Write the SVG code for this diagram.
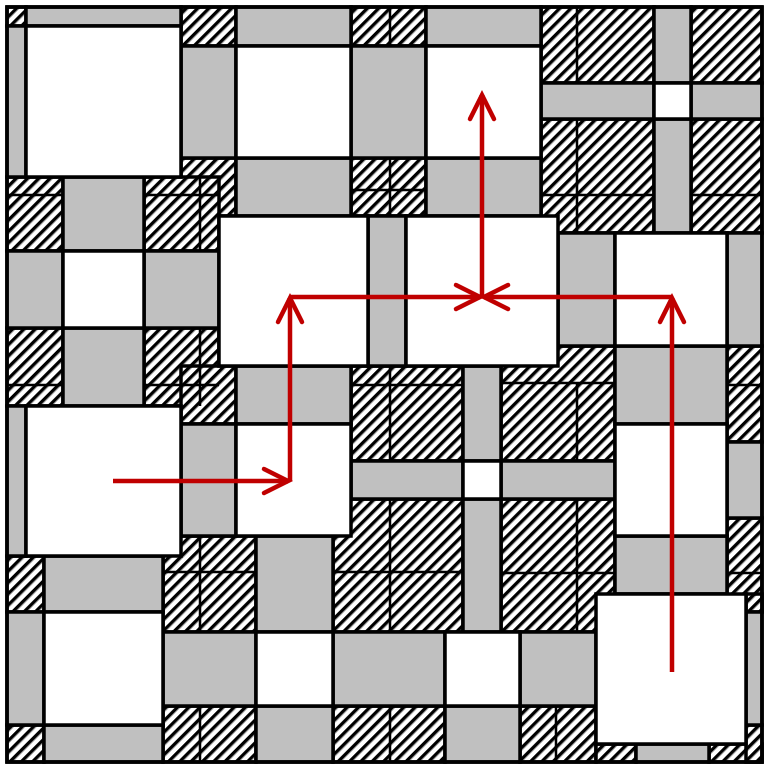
<svg xmlns="http://www.w3.org/2000/svg" width="765" height="768" viewBox="0 0 765 768">
<defs>
<pattern id="hatch" patternUnits="userSpaceOnUse" width="8" height="8" patternTransform="rotate(45)">
<rect width="8" height="8" fill="#fff"/>
<rect x="0" y="0" width="3.4" height="8" fill="#000"/>
</pattern>
<marker id="ah" markerUnits="userSpaceOnUse" markerWidth="40" markerHeight="40" viewBox="-30 -20 40 40" refX="0" refY="0" orient="auto">
<path d="M-24,-12 L0,0 L-24,12" fill="none" stroke="#c00000" stroke-width="4.5" stroke-linecap="round"/>
</marker>
<style>
.h{fill:url(#hatch);stroke:#000;stroke-width:3.5}
.g{fill:#c0c0c0;stroke:#000;stroke-width:3.5}
.w{fill:#fff;stroke:#000;stroke-width:3.5}
.a{stroke:#c00000;stroke-width:4.5;fill:none;marker-end:url(#ah)}
.sub{stroke:#000;stroke-width:2.5;fill:none}
</style>
</defs>
<rect x="0" y="0" width="765" height="768" fill="#fff"/>
<g id="hatched">
<rect class="h" x="7" y="7" width="19" height="19"/>
<rect class="h" x="181" y="7" width="55" height="39"/>
<rect class="h" x="351" y="7" width="75" height="39"/>
<rect class="h" x="541" y="7" width="113" height="76"/>
<rect class="h" x="691" y="7" width="71" height="76"/>
<rect class="h" x="541" y="119" width="113" height="114"/>
<rect class="h" x="691" y="119" width="71" height="114"/>
<rect class="h" x="181" y="158" width="55" height="58"/>
<rect class="h" x="351" y="158" width="75" height="58"/>
<rect class="h" x="7" y="177" width="56" height="74"/>
<rect class="h" x="144" y="177" width="75" height="74"/>
<rect class="h" x="7" y="328" width="56" height="78"/>
<rect class="h" x="144" y="328" width="75" height="78"/>
<rect class="h" x="181" y="366" width="55" height="58"/>
<rect class="h" x="351" y="366" width="112" height="95"/>
<rect class="h" x="501" y="346" width="114" height="115"/>
<rect class="h" x="727" y="346" width="35" height="96"/>
<rect class="h" x="333" y="499" width="130" height="133"/>
<rect class="h" x="501" y="499" width="114" height="133"/>
<rect class="h" x="727" y="518" width="35" height="94"/>
<rect class="h" x="7" y="556" width="37" height="56"/>
<rect class="h" x="163" y="536" width="93" height="96"/>
<rect class="h" x="7" y="725" width="37" height="37"/>
<rect class="h" x="163" y="706" width="93" height="56"/>
<rect class="h" x="333" y="706" width="112" height="56"/>
<rect class="h" x="520" y="706" width="76" height="56"/>
<rect class="h" x="596" y="744" width="40" height="18"/>
<rect class="h" x="709" y="744" width="53" height="18"/>
<rect class="h" x="746" y="725" width="16" height="37"/>
<rect class="h" x="746" y="594" width="16" height="18"/>
<path class="sub" d="M577,7V83 M577,119V233 M541,195H654 M691,195H762 M390,366V461 M351,385H463 M577,383V461 M501,383H615 M390,499V632 M333,572H463 M577,499V632 M501,573H615 M7,195H63 M144,195H219 M200,177V251 M7,385H63 M144,385H219 M200,328V406 M200,536V632 M163,572H256 M200,706V762 M390,706V762 M390,7V46 M390,158V216 M351,190H426 M727,385H762 M727,573H762 M556,706V762"/>
</g>
<g id="gray">
<rect class="g" x="26" y="7" width="155" height="19"/>
<rect class="g" x="7" y="26" width="19" height="151"/>
<rect class="g" x="236" y="7" width="115" height="39"/>
<rect class="g" x="426" y="7" width="115" height="39"/>
<rect class="g" x="654" y="7" width="37" height="76"/>
<rect class="g" x="181" y="46" width="55" height="112"/>
<rect class="g" x="351" y="46" width="75" height="112"/>
<rect class="g" x="541" y="83" width="113" height="36"/>
<rect class="g" x="691" y="83" width="71" height="36"/>
<rect class="g" x="654" y="119" width="37" height="114"/>
<rect class="g" x="236" y="158" width="115" height="58"/>
<rect class="g" x="426" y="158" width="115" height="58"/>
<rect class="g" x="63" y="177" width="81" height="74"/>
<rect class="g" x="7" y="251" width="56" height="77"/>
<rect class="g" x="144" y="251" width="75" height="77"/>
<rect class="g" x="63" y="328" width="81" height="78"/>
<rect class="g" x="368" y="216" width="38" height="150"/>
<rect class="g" x="558" y="233" width="57" height="113"/>
<rect class="g" x="727" y="233" width="35" height="113"/>
<rect class="g" x="236" y="366" width="115" height="58"/>
<rect class="g" x="463" y="366" width="38" height="95"/>
<rect class="g" x="351" y="461" width="112" height="38"/>
<rect class="g" x="501" y="461" width="114" height="38"/>
<rect class="g" x="615" y="346" width="112" height="78"/>
<rect class="g" x="727" y="442" width="35" height="76"/>
<rect class="g" x="7" y="406" width="19" height="150"/>
<rect class="g" x="181" y="424" width="55" height="112"/>
<rect class="g" x="463" y="499" width="38" height="133"/>
<rect class="g" x="615" y="536" width="112" height="58"/>
<rect class="g" x="44" y="556" width="119" height="56"/>
<rect class="g" x="256" y="536" width="77" height="96"/>
<rect class="g" x="7" y="612" width="37" height="113"/>
<rect class="g" x="163" y="632" width="93" height="74"/>
<rect class="g" x="333" y="632" width="112" height="74"/>
<rect class="g" x="520" y="632" width="76" height="74"/>
<rect class="g" x="44" y="725" width="119" height="37"/>
<rect class="g" x="256" y="706" width="77" height="56"/>
<rect class="g" x="445" y="706" width="75" height="56"/>
<rect class="g" x="636" y="744" width="73" height="18"/>
<rect class="g" x="746" y="612" width="16" height="113"/>
</g>
<g id="white">
<rect class="w" x="26" y="26" width="155" height="151"/>
<rect class="w" x="236" y="46" width="115" height="112"/>
<rect class="w" x="426" y="46" width="115" height="112"/>
<rect class="w" x="654" y="83" width="37" height="36"/>
<rect class="w" x="63" y="251" width="81" height="77"/>
<rect class="w" x="219" y="216" width="149" height="150"/>
<rect class="w" x="406" y="216" width="152" height="150"/>
<rect class="w" x="615" y="233" width="112" height="113"/>
<rect class="w" x="26" y="406" width="155" height="150"/>
<rect class="w" x="236" y="424" width="115" height="112"/>
<rect class="w" x="463" y="461" width="38" height="38"/>
<rect class="w" x="615" y="424" width="112" height="112"/>
<rect class="w" x="44" y="612" width="119" height="113"/>
<rect class="w" x="256" y="632" width="77" height="74"/>
<rect class="w" x="445" y="632" width="75" height="74"/>
<rect class="w" x="596" y="594" width="150" height="150"/>
</g>
<rect x="7" y="7" width="755" height="755" fill="none" stroke="#000" stroke-width="3.5"/>
<g id="connectors">
<line class="a" x1="113" y1="481" x2="288" y2="481"/>
<line class="a" x1="290" y1="481" x2="290" y2="298"/>
<line class="a" x1="290" y1="297" x2="480" y2="297"/>
<line class="a" x1="672" y1="672" x2="672" y2="298"/>
<line class="a" x1="672" y1="297" x2="484" y2="297"/>
<line class="a" x1="482" y1="297" x2="482" y2="95"/>
</g>
</svg>
